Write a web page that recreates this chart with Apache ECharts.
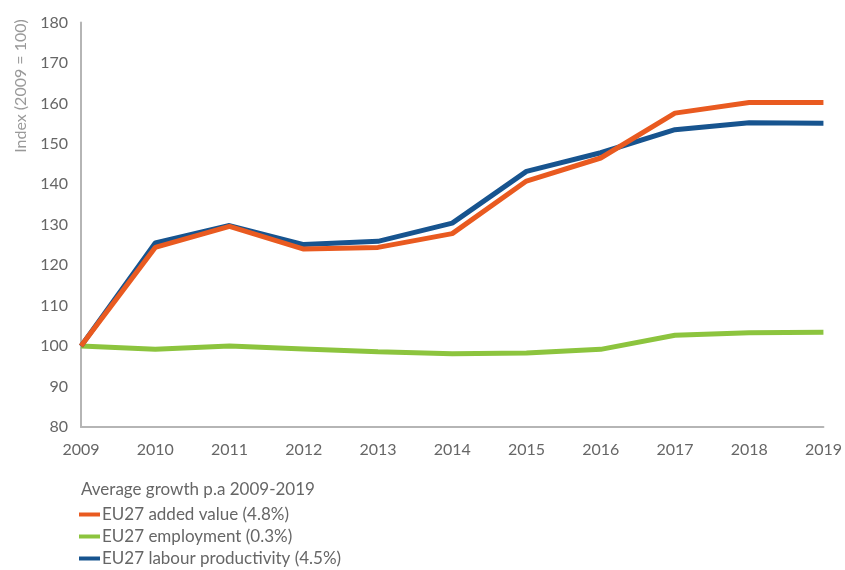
<!DOCTYPE html>
<html><head><meta charset="utf-8">
<script src="https://cdn.jsdelivr.net/npm/echarts@6/dist/echarts.min.js"></script>
<style>html,body{margin:0;padding:0;background:#fff}#c{width:845px;height:570px}</style>
</head><body><div id="c"></div>
<script>
const years = ['2009','2010','2011','2012','2013','2014','2015','2016','2017','2018','2019'];
const addedValue = [100, 124.4, 129.6, 124.0, 124.4, 127.8, 140.8, 146.5, 157.6, 160.2, 160.2];
const employment = [100, 99.2, 100.0, 99.3, 98.6, 98.1, 98.3, 99.2, 102.7, 103.3, 103.4];
const productivity = [100, 125.5, 129.8, 125.1, 125.9, 130.4, 143.2, 147.8, 153.5, 155.2, 155.1];
const seriesNames = ['EU27 added value (4.8%)', 'EU27 employment (0.3%)', 'EU27 labour productivity (4.5%)'];
const colors = ['#e95a20', '#8cc43e', '#17548f'];
const font = 'Lato, "Open Sans", sans-serif';
const chart = echarts.init(document.getElementById('c'));
const mk = (i, data) => ({
  name: seriesNames[i], type: 'line', data: data, symbol: 'none', smooth: false,
  lineStyle: {width: 5, color: colors[i]}, itemStyle: {color: colors[i]}, z: i === 1 ? 2 : (i === 0 ? 4 : 3)
});
chart.setOption({
  animation: false,
  textStyle: {fontFamily: font},
  grid: {left: 81, right: 14, top: 22.5, bottom: 143, containLabel: false},
  xAxis: {
    type: 'category', data: years, boundaryGap: false,
    axisLine: {lineStyle: {color: '#b5b5b5', width: 2}},
    axisTick: {show: false},
    axisLabel: {color: '#666', fontSize: 16, margin: 15, fontFamily: font}
  },
  yAxis: {
    type: 'value', min: 80, max: 180, interval: 10,
    axisLine: {show: true, lineStyle: {color: '#b5b5b5', width: 2}},
    axisTick: {show: false},
    splitLine: {show: false},
    axisLabel: {color: '#666', fontSize: 16, margin: 13, fontFamily: font}
  },
  legend: {
    orient: 'vertical', left: 79, top: 505, padding: 0, itemGap: 3,
    itemWidth: 21, itemHeight: 4, icon: 'rect',
    textStyle: {color: '#666', fontSize: 17, lineHeight: 19, fontFamily: font, padding: [0,0,0,-3]},
    data: seriesNames
  },
  graphic: [
    {type: 'text', left: 81, top: 481, style: {text: 'Average growth p.a 2009-2019', fill: '#666', font: '17px ' + font}},
    {type: 'text', x: 21, y: 86, rotation: Math.PI / 2, style: {text: 'Index (2009 = 100)', fill: '#999', font: '16px ' + font, align: 'center', verticalAlign: 'middle'}}
  ],
  series: [mk(1, employment), mk(2, productivity), mk(0, addedValue)]
});
</script></body></html>
